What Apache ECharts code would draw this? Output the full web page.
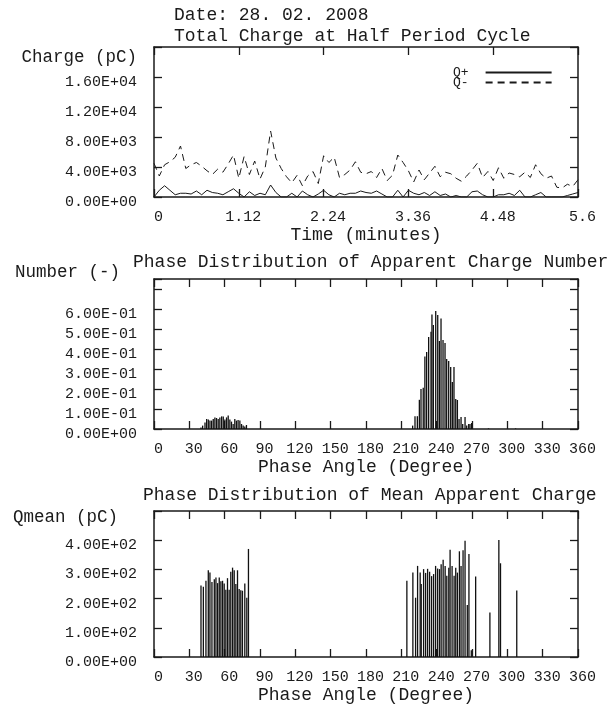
<!DOCTYPE html>
<html>
<head>
<meta charset="utf-8">
<script src="https://cdn.jsdelivr.net/npm/echarts@6/dist/echarts.min.js"></script>
<style>
html,body{margin:0;padding:0;background:#fff;}
#chart{width:614px;height:705px;}
</style>
</head>
<body>
<div id="chart"></div>
<script>
// ---------- DATA ----------
const titles = {
  date: 'Date: 28. 02. 2008',
  top: 'Total Charge at Half Period Cycle',
  mid: 'Phase Distribution of Apparent Charge Number',
  bot: 'Phase Distribution of Mean Apparent Charge'
};
const seriesNames = ['Q+', 'Q-'];
const times = [0,0.07,0.14,0.21,0.28,0.35,0.42,0.49,0.56,0.63,0.70,0.77,0.84,0.91,0.98,1.05,1.12,1.19,1.26,1.33,1.40,1.47,1.54,1.61,1.68,1.75,1.82,1.89,1.96,2.03,2.10,2.17,2.24,2.31,2.38,2.45,2.52,2.59,2.66,2.73,2.80,2.87,2.94,3.01,3.08,3.15,3.22,3.29,3.36,3.43,3.50,3.57,3.64,3.71,3.78,3.85,3.92,3.99,4.06,4.13,4.20,4.27,4.34,4.41,4.48,4.55,4.62,4.69,4.76,4.83,4.90,4.97,5.04,5.11,5.18,5.25,5.32,5.39,5.46,5.53,5.60];
const qMinus = [4500,2800,4300,4700,5300,6800,3800,4300,4600,4100,3500,3000,3700,3300,4400,5600,2500,5400,3000,4800,2400,4000,8800,5200,3800,2700,1900,2900,1500,2800,3400,1800,5500,4600,5300,2600,3000,3600,4700,3300,3100,3400,2600,3800,2200,2900,5600,4600,3500,2000,3600,2300,3200,4100,2700,3300,3100,2500,2100,2800,3600,4500,2600,3400,2200,3900,2500,3200,3000,2700,3300,2600,4300,3100,2500,2800,1300,1200,1700,1400,2300];
const qPlus = [0,900,1500,900,300,500,500,400,800,300,900,600,500,300,700,1100,500,0,700,200,500,300,1600,600,0,0,500,0,800,300,0,400,900,300,0,500,300,500,500,800,600,500,800,400,0,0,900,0,900,500,300,600,200,700,200,400,0,200,0,0,700,800,300,0,0,300,300,500,200,900,0,0,300,600,0,0,0,0,200,400,600];

const numAngles = [39.9,41.3,43.3,44.7,46.1,47.5,48.9,50.3,51.7,53.1,54.5,55.9,57.4,58.8,60.2,61.6,63.0,64.4,65.8,67.2,68.6,70.0,71.4,72.9,74.3,75.7,77.1,78.5,
  219.6,221.6,223.6,225.3,226.7,228.6,230.0,231.5,233.2,235.2,236.0,237.2,239.2,240.9,242.3,243.7,245.4,247.1,248.5,250.2,251.9,253.3,254.7,256.2,257.6,259.0,260.7,262.1,264.1,265.5,267.2,268.3,269.7,284.0,307.0];
const numValues = [0.008,0.017,0.033,0.050,0.047,0.042,0.042,0.050,0.058,0.055,0.050,0.058,0.063,0.062,0.047,0.058,0.067,0.047,0.037,0.025,0.050,0.042,0.045,0.042,0.025,0.017,0.013,0.020,
  0.017,0.064,0.064,0.146,0.200,0.206,0.363,0.385,0.460,0.486,0.573,0.520,0.590,0.570,0.440,0.553,0.445,0.430,0.350,0.340,0.310,0.235,0.310,0.150,0.145,0.050,0.060,0.025,0.060,0.017,0.025,0.025,0.030,0.003,0.003];

const qmAngles = [39.9,41.9,44.1,46.1,47.5,49.2,51.2,52.6,54.0,55.4,56.8,58.2,59.6,61.0,62.4,63.8,65.2,66.7,68.1,69.5,70.9,72.3,73.7,75.1,77.1,78.8,80.2,
  214.7,219.8,222.1,223.8,226.0,226.9,228.9,230.6,232.3,234.0,235.7,237.4,239.1,240.8,242.4,243.8,245.5,247.2,248.6,250.3,251.4,253.1,254.8,256.2,257.6,259.3,260.7,262.4,264.1,266.0,267.4,269.4,273.1,285.2,292.8,294.2,308.0];
const qmValues = [245,241,261,297,289,257,266,272,253,272,259,261,252,230,270,230,292,306,297,250,297,233,229,227,252,203,370,
  261,289,203,312,289,250,301,288,302,292,277,284,312,303,301,318,333,312,278,306,367,312,278,306,289,362,312,366,398,178,353,23,276,152,401,321,228];

const timeTicks = {min:0, max:5.6, interval:1.12};
const chargeAxis = {min:0, max:20000, interval:4000, lastLabel:16000};
const numberAxis = {min:0, max:0.75, interval:0.1, lastLabel:0.6};
const qmeanAxis = {min:0, max:500, interval:100, lastLabel:400};
const phaseAxis = {min:0, max:360, interval:30};

// ---------- STYLE / BUILD ----------
const MONO = 'Liberation Mono';
const INK = '#1a1a1a';
function sci(v){
  const s = Number(v).toExponential(2).split('e');
  const sign = s[1][0];
  const d = s[1].slice(1).padStart(2,'0');
  return s[0] + 'E' + sign + d;
}
const grids = [
  {left:154, width:424, top:47, height:150},
  {left:154, width:424, top:279, height:150},
  {left:154, width:424, top:511, height:149}
];
const lineS = {show:true, onZero:false, lineStyle:{color:INK, width:1.5}};
const tickS = {show:true, inside:true, length:8, lineStyle:{color:INK, width:1.3}};

function xAxes(gi, rng, name, fmt){
  return [
    {gridIndex:gi, type:'value', position:'bottom', min:rng.min, max:rng.max, interval:rng.interval,
     axisLine:lineS, axisTick:tickS, splitLine:{show:false},
     axisLabel:{margin:13, fontFamily:MONO, fontSize:15, color:INK, padding:[0,0,0,9], formatter:fmt},
     name:name, nameLocation:'middle', nameGap:29,
     nameTextStyle:{fontFamily:MONO, fontSize:18, color:INK, verticalAlign:'top'}},
    {gridIndex:gi, type:'value', position:'top', min:rng.min, max:rng.max, interval:rng.interval,
     axisLine:lineS, axisTick:tickS, axisLabel:{show:false}, splitLine:{show:false}}
  ];
}
function yAxes(gi, rng){
  return [
    {gridIndex:gi, type:'value', position:'left', min:rng.min, max:rng.max, interval:rng.interval,
     axisLine:lineS, axisTick:tickS, splitLine:{show:false},
     axisLabel:{margin:17, fontFamily:MONO, fontSize:15, color:INK, verticalAlign:'top', lineHeight:10,
       formatter: v => (v > rng.lastLabel + rng.interval*0.01) ? '' : sci(v)}},
    {gridIndex:gi, type:'value', position:'right', min:rng.min, max:rng.max, interval:rng.interval,
     axisLine:lineS, axisTick:tickS, axisLabel:{show:false}, splitLine:{show:false}}
  ];
}
const tFmt = v => String(+Number(v).toFixed(2));
const pFmt = v => String(Math.round(v));

const xAx = [].concat(xAxes(0, timeTicks, 'Time (minutes)', tFmt),
                      xAxes(1, phaseAxis, 'Phase Angle (Degree)', pFmt),
                      xAxes(2, phaseAxis, 'Phase Angle (Degree)', pFmt));
const yAx = [].concat(yAxes(0, chargeAxis), yAxes(1, numberAxis), yAxes(2, qmeanAxis));

function tt(text, pos, fs){
  return Object.assign({text:text, padding:0,
    textStyle:{fontFamily:MONO, fontSize:fs, fontWeight:'normal', color:INK, lineHeight:fs}}, pos);
}
const titleArr = [
  tt(titles.date, {left:174, top:6}, 18),
  tt(titles.top, {left:174, top:27}, 18),
  tt(titles.mid, {left:133, top:253}, 18),
  tt(titles.bot, {left:143, top:486}, 18),
  tt('Charge (pC)', {right:477, top:49}, 17.5),
  tt('Number (-)', {right:494, top:264}, 17.5),
  tt('Qmean (pC)', {right:496, top:509}, 17.5)
];

const pairs = (xs, ys) => xs.map((x,i)=>[x, ys[i]]);

const option = {
  animation:false,
  backgroundColor:'#fff',
  title:titleArr,
  grid:grids,
  xAxis:xAx,
  yAxis:yAx,
  legend:{
    data:seriesNames, orient:'vertical', left:448, top:61, align:'right',
    itemWidth:66, itemHeight:10, itemGap:-3,
    itemStyle:{color:'rgba(0,0,0,0)', borderColor:'rgba(0,0,0,0)', borderWidth:0, opacity:0},
    textStyle:{fontFamily:MONO, fontSize:13, color:INK, lineHeight:10, padding:[0,12,0,0]}
  },
  series:[
    {name:seriesNames[0], type:'line', xAxisIndex:0, yAxisIndex:0, data:pairs(times,qPlus),
     symbol:'none', lineStyle:{color:INK, width:1}, itemStyle:{color:INK}},
    {name:seriesNames[1], type:'line', xAxisIndex:0, yAxisIndex:0, data:pairs(times,qMinus),
     symbol:'none', lineStyle:{color:INK, width:1, type:[7,5]}, itemStyle:{color:INK}},
    {name:'N', type:'bar', xAxisIndex:2, yAxisIndex:2, data:pairs(numAngles,numValues),
     barWidth:1.3, itemStyle:{color:'#111'}},
    {name:'Qm', type:'bar', xAxisIndex:4, yAxisIndex:4, data:pairs(qmAngles,qmValues),
     barWidth:1.3, itemStyle:{color:'#111'}}
  ]
};
echarts.init(document.getElementById('chart'), null, {renderer:'canvas'}).setOption(option);
</script>
</body>
</html>
